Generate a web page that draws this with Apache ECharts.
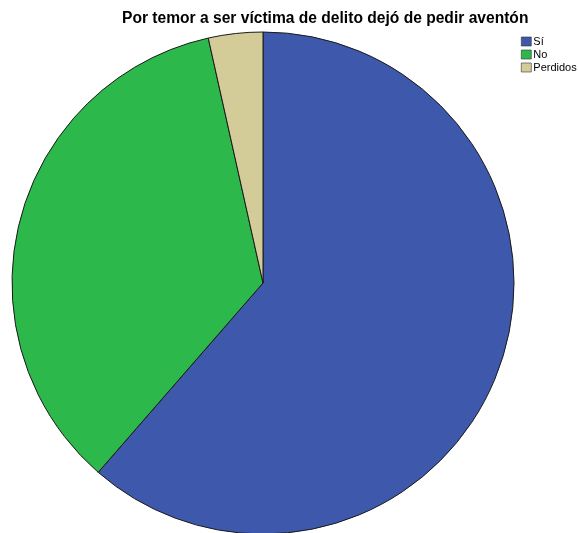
<!DOCTYPE html>
<html><head><meta charset="utf-8">
<script src="https://cdn.jsdelivr.net/npm/echarts@6/dist/echarts.min.js"></script>
<style>html,body{margin:0;padding:0;background:#fff}#c{width:578px;height:533px}</style>
</head><body><div id="c"></div>
<script>
const categories = ['Sí', 'No', 'Perdidos'];
const values = [61.4, 35.1, 3.5];
const colors = ['#3e58ac', '#2db84c', '#d4cc98'];
const titleText = 'Por temor a ser víctima de delito dejó de pedir aventón';

const chart = echarts.init(document.getElementById('c'), null, {renderer: 'canvas'});
chart.setOption({
  backgroundColor: '#ffffff',
  animation: false,
  title: {
    text: titleText,
    left: 117, top: 6,
    textStyle: {fontFamily: 'Liberation Sans, Arial, sans-serif', fontSize: 15.6, fontWeight: 'bold', color: '#000'}
  },
  legend: {
    orient: 'vertical', left: 516, top: 31,
    itemWidth: 10, itemHeight: 9, itemGap: 2,
    icon: 'rect',
    itemStyle: {borderColor: '#333', borderWidth: 0.6},
    textStyle: {fontFamily: 'Liberation Sans, Arial, sans-serif', fontSize: 11, lineHeight: 11, color: '#000', padding: [0,0,0,-3]},
    data: categories
  },
  series: [{
    type: 'pie',
    center: [263, 283],
    radius: 251,
    startAngle: 90,
    clockwise: true,
    label: {show: false},
    labelLine: {show: false},
    emphasis: {disabled: true},
    itemStyle: {borderColor: '#1a1a1a', borderWidth: 1},
    data: categories.map((c, i) => ({name: c, value: values[i], itemStyle: {color: colors[i]}}))
  }]
});
</script></body></html>
